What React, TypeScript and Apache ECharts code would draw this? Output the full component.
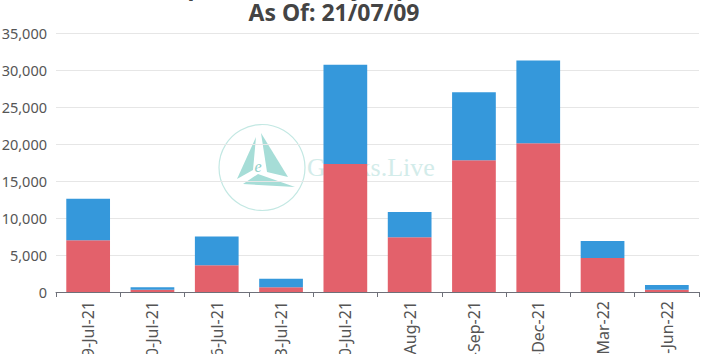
import React, { useEffect, useRef } from "react";
import * as echarts from "echarts";

const titleLine1 = "BTC Open Interest By Expiration Date";
const titleLine2 = "As Of: 21/07/09";
const categories = [
  "9-Jul-21",
  "10-Jul-21",
  "16-Jul-21",
  "23-Jul-21",
  "30-Jul-21",
  "27-Aug-21",
  "24-Sep-21",
  "31-Dec-21",
  "25-Mar-22",
  "24-Jun-22",
];
const redName = "Call";
const blueName = "Put";
const redValues = [7000, 300, 3600, 650, 17300, 7400, 17800, 20100, 4600, 300];
const blueValues = [5600, 350, 3900, 1150, 13400, 3400, 9200, 11200, 2300, 650];
const yTicks = { min: 0, max: 35000, interval: 5000 };

const RED = "#e3616b";
const BLUE = "#3598db";
const TEAL = "#a6ddd7";
const FONT = "'Noto Sans', 'Open Sans', sans-serif";

export default function App() {
  const ref = useRef<HTMLDivElement>(null);
  useEffect(() => {
    if (!ref.current) return;
    const chart = echarts.init(ref.current, undefined, { renderer: "svg" });
    chart.setOption({
      animation: false,
      backgroundColor: "#ffffff",
      textStyle: { fontFamily: FONT },
      grid: {
        left: 56,
        right: 2,
        top: 33,
        bottom: 62,
        containLabel: false,
        outerBoundsMode: "none",
      },
      xAxis: {
        type: "category",
        data: categories,
        axisLine: { lineStyle: { color: "#6e7079" } },
        axisTick: { show: true, alignWithLabel: false, lineStyle: { color: "#6e7079" } },
        axisLabel: { rotate: 90, fontSize: 16, color: "#555", fontFamily: FONT, margin: 9 },
      },
      yAxis: {
        type: "value",
        min: yTicks.min,
        max: yTicks.max,
        interval: yTicks.interval,
        axisLine: { show: false },
        axisTick: { show: false },
        splitLine: { lineStyle: { color: "#e6e6e6" } },
        axisLabel: {
          fontSize: 14.5,
          color: "#555",
          fontFamily: FONT,
          margin: 9,
          formatter: (v: number) => v.toLocaleString("en-US"),
        },
      },
      graphic: [
        {
          type: "text",
          z: 10,
          style: {
            text: titleLine1,
            x: 334,
            y: -14,
            align: "center",
            verticalAlign: "middle",
            font: `bold 23px ${FONT}`,
            fill: "#444",
          },
        },
        {
          type: "text",
          z: 10,
          style: {
            text: titleLine2,
            x: 334,
            y: 12,
            align: "center",
            verticalAlign: "middle",
            font: `bold 23px ${FONT}`,
            fill: "#444",
          },
        },
        {
          type: "circle",
          z: -1,
          shape: { cx: 262, cy: 167.5, r: 43 },
          style: { fill: "none", stroke: "#c3e8e3", lineWidth: 1.2 },
        },
        {
          type: "polygon",
          z: -1,
          shape: { points: [[256, 137], [237, 179], [253, 170]] },
          style: { fill: TEAL },
        },
        {
          type: "polygon",
          z: -1,
          shape: { points: [[261, 133], [288, 177], [267, 172]] },
          style: { fill: TEAL },
        },
        {
          type: "polygon",
          z: -1,
          shape: { points: [[243, 184], [258, 174], [295, 187]] },
          style: { fill: TEAL },
        },
        {
          type: "text",
          z: -1,
          style: {
            text: "e",
            x: 258,
            y: 166,
            align: "center",
            verticalAlign: "middle",
            font: "italic 16px 'Liberation Serif', serif",
            fill: "#8fd0c8",
          },
        },
        {
          type: "text",
          z: -1,
          style: {
            text: "Greeks.Live",
            x: 307,
            y: 167,
            align: "left",
            verticalAlign: "middle",
            font: "26px 'Liberation Serif', serif",
            fill: "#d3ecea",
          },
        },
      ],
      series: [
        {
          name: redName,
          type: "bar",
          stack: "oi",
          data: redValues,
          barWidth: "68%",
          itemStyle: { color: RED },
        },
        {
          name: blueName,
          type: "bar",
          stack: "oi",
          data: blueValues,
          barWidth: "68%",
          itemStyle: { color: BLUE },
        },
      ],
    });
    return () => chart.dispose();
  }, []);
  return (
    <div
      ref={ref}
      style={{ position: "fixed", left: 0, top: 0, width: 701, height: 354 }}
    />
  );
}
